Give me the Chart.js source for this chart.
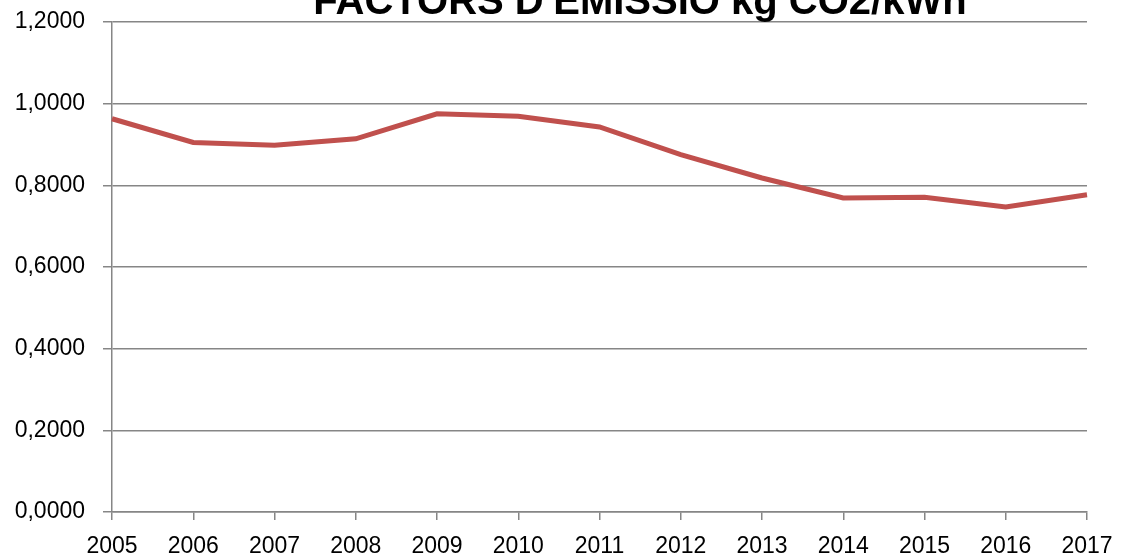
<!DOCTYPE html>
<html>
<head>
<meta charset="utf-8">
<script src="https://cdn.jsdelivr.net/npm/chart.js@4/dist/chart.umd.min.js"></script>
<style>
html,body{margin:0;padding:0;background:#fff;}
#wrap{width:1127px;height:556px;position:relative;}
</style>
</head>
<body>
<div id="wrap"><canvas id="c" width="1127" height="556"></canvas></div>
<script>
const titleText = "FACTORS D'EMISSIÓ kg CO2/kWh";
const years = ["2005","2006","2007","2008","2009","2010","2011","2012","2013","2014","2015","2016","2017"];
const factors = [0.963, 0.905, 0.898, 0.914, 0.975, 0.969, 0.943, 0.875, 0.818, 0.769, 0.771, 0.747, 0.777];
const yMin = 0, yMax = 1.2, yStep = 0.2;

const titlePlugin = {
  id: 'cutTitle',
  afterDraw(chart) {
    const ctx = chart.ctx;
    ctx.save();
    ctx.font = "bold 40px 'Liberation Sans', Arial, sans-serif";
    ctx.fillStyle = "#000";
    ctx.textAlign = "center";
    ctx.textBaseline = "alphabetic";
    ctx.fillText(titleText, 640, 14);
    ctx.restore();
  }
};

new Chart(document.getElementById('c'), {
  type: 'line',
  data: {
    labels: years,
    datasets: [{
      data: factors,
      borderColor: '#C0504D',
      borderWidth: 5,
      pointRadius: 0,
      tension: 0,
      fill: false
    }]
  },
  options: {
    responsive: false,
    animation: false,
    layout: { autoPadding: false, padding: { top: 22, right: 40, left: 0, bottom: 0 } },
    plugins: { legend: { display: false }, tooltip: { enabled: false }, title: { display: false } },
    scales: {
      x: {
        offset: false,
        grid: { display: true, drawOnChartArea: false, drawTicks: true, tickLength: 8, color: '#868686', lineWidth: 1.5 },
        border: { color: '#868686', width: 1.5 },
        ticks: { color: '#000', font: { family: "'Liberation Sans', Arial, sans-serif", size: 23 }, padding: 13, maxRotation: 0, autoSkip: false },
        afterFit(scale) { scale.height = 44; scale.paddingLeft = 0; scale.paddingRight = 0; }
      },
      y: {
        min: yMin, max: yMax,
        grid: { color: '#868686', lineWidth: 1.5, tickLength: 9 },
        border: { color: '#868686', width: 1.5 },
        ticks: {
          stepSize: yStep,
          color: '#000',
          padding: 18,
          font: { family: "'Liberation Sans', Arial, sans-serif", size: 23 },
          callback: v => v.toFixed(4).replace('.', ',')
        },
        afterFit(scale) { scale.width = 112; scale.paddingTop = 0; scale.paddingBottom = 0; }
      }
    }
  },
  plugins: [titlePlugin]
});
</script>
</body>
</html>
